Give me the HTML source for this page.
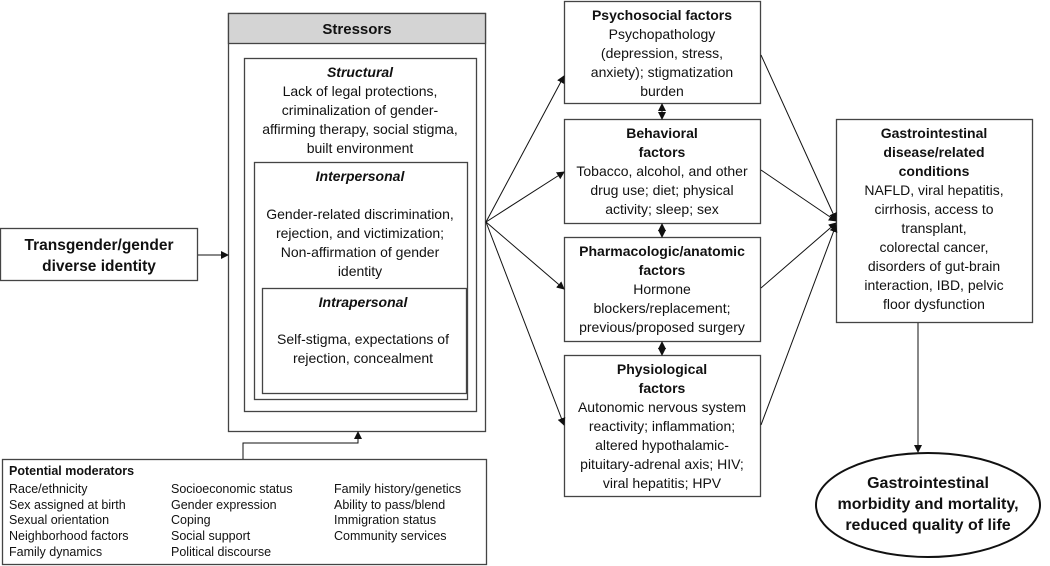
<!DOCTYPE html>
<html><head><meta charset="utf-8"><style>
html,body{margin:0;padding:0;background:#fff;}
svg{display:block;font-family:"Liberation Sans",sans-serif;}
text{font-size:14px;fill:#111;}
.b{font-weight:bold;}
.i{font-weight:bold;font-style:italic;}
.m{font-size:12.5px;}
</style></head><body>
<svg width="1050" height="566" viewBox="0 0 1050 566" xmlns="http://www.w3.org/2000/svg">
<defs><marker id="a" markerWidth="8" markerHeight="8" refX="7" refY="4" orient="auto" markerUnits="userSpaceOnUse"><path d="M0,0 L8,4 L0,8 z" fill="#111"/></marker>
<marker id="s" markerWidth="8" markerHeight="8" refX="1" refY="4" orient="auto" markerUnits="userSpaceOnUse"><path d="M8,0 L0,4 L8,8 z" fill="#111"/></marker></defs>
<g fill="none" stroke="#444" stroke-width="1.3">
<rect x="228.5" y="13.5" width="257" height="418" fill="#fff"/>
<rect x="228.5" y="13.5" width="257" height="30" fill="#d4d4d4"/>
<rect x="244.5" y="58.5" width="232" height="353"/>
<rect x="254.5" y="162.5" width="213" height="237"/>
<rect x="262.5" y="288.5" width="204" height="105"/>
<rect x="0.5" y="228.5" width="197" height="52"/>
<rect x="2.5" y="459.5" width="484" height="105"/>
<rect x="564.5" y="1.5" width="196" height="102"/>
<rect x="564.5" y="119.5" width="196" height="104"/>
<rect x="564.5" y="237.5" width="196" height="104"/>
<rect x="564.5" y="355.5" width="196" height="141"/>
<rect x="836.5" y="119.5" width="196" height="203"/>
<ellipse cx="928" cy="505" rx="112" ry="52" stroke="#111" stroke-width="2"/>
</g>
<g stroke="#111" stroke-width="1" fill="none">
<line x1="198" y1="255" x2="228" y2="255" marker-end="url(#a)"/>
<polyline points="243,459 243,443 358,443 358,432" marker-end="url(#a)"/>
<line x1="486" y1="222" x2="564" y2="76" marker-end="url(#a)"/>
<line x1="486" y1="222" x2="564" y2="172" marker-end="url(#a)"/>
<line x1="486" y1="222" x2="564" y2="289" marker-end="url(#a)"/>
<line x1="486" y1="222" x2="564" y2="425" marker-end="url(#a)"/>
<line x1="761" y1="55" x2="836" y2="220" marker-end="url(#a)"/>
<line x1="761" y1="170" x2="836" y2="221" marker-end="url(#a)"/>
<line x1="761" y1="288" x2="836" y2="223" marker-end="url(#a)"/>
<line x1="761" y1="425" x2="836" y2="225" marker-end="url(#a)"/>
<line x1="662" y1="104" x2="662" y2="119" marker-end="url(#a)" marker-start="url(#s)"/>
<line x1="662" y1="224" x2="662" y2="237" marker-end="url(#a)" marker-start="url(#s)"/>
<line x1="662" y1="342" x2="662" y2="355" marker-end="url(#a)" marker-start="url(#s)"/>
<line x1="918" y1="323" x2="918" y2="452" marker-end="url(#a)"/>
</g>
<g text-anchor="middle">
<text x="357" y="34" class="b" style="font-size:15px">Stressors</text>
<text x="360" y="77" class="i">Structural</text>
<text x="360" y="96">Lack of legal protections,</text>
<text x="360" y="115">criminalization of gender-</text>
<text x="360" y="134">affirming therapy, social stigma,</text>
<text x="360" y="153">built environment</text>
<text x="360" y="181" class="i">Interpersonal</text>
<text x="360" y="219">Gender-related discrimination,</text>
<text x="360" y="238">rejection, and victimization;</text>
<text x="360" y="257">Non-affirmation of gender</text>
<text x="360" y="276">identity</text>
<text x="363" y="307" class="i">Intrapersonal</text>
<text x="363" y="344">Self-stigma, expectations of</text>
<text x="363" y="363">rejection, concealment</text>
<text x="99" y="250" class="b" style="font-size:15.5px">Transgender/gender</text>
<text x="99" y="271" class="b" style="font-size:15.5px">diverse identity</text>
<text x="662" y="20" class="b">Psychosocial factors</text>
<text x="662" y="39">Psychopathology</text>
<text x="662" y="58">(depression, stress,</text>
<text x="662" y="77">anxiety); stigmatization</text>
<text x="662" y="96">burden</text>
<text x="662" y="138" class="b">Behavioral</text>
<text x="662" y="157" class="b">factors</text>
<text x="662" y="176">Tobacco, alcohol, and other</text>
<text x="662" y="195">drug use; diet; physical</text>
<text x="662" y="214">activity; sleep; sex</text>
<text x="662" y="256" class="b">Pharmacologic/anatomic</text>
<text x="662" y="275" class="b">factors</text>
<text x="662" y="294">Hormone</text>
<text x="662" y="313">blockers/replacement;</text>
<text x="662" y="332">previous/proposed surgery</text>
<text x="662" y="374" class="b">Physiological</text>
<text x="662" y="393" class="b">factors</text>
<text x="662" y="412">Autonomic nervous system</text>
<text x="662" y="431">reactivity; inflammation;</text>
<text x="662" y="450">altered hypothalamic-</text>
<text x="662" y="469">pituitary-adrenal axis; HIV;</text>
<text x="662" y="488">viral hepatitis; HPV</text>
<text x="934" y="138" class="b">Gastrointestinal</text>
<text x="934" y="157" class="b">disease/related</text>
<text x="934" y="176" class="b">conditions</text>
<text x="934" y="195">NAFLD, viral hepatitis,</text>
<text x="934" y="214">cirrhosis, access to</text>
<text x="934" y="233">transplant,</text>
<text x="934" y="252">colorectal cancer,</text>
<text x="934" y="271">disorders of gut-brain</text>
<text x="934" y="290">interaction, IBD, pelvic</text>
<text x="934" y="309">floor dysfunction</text>
<text x="928" y="488" class="b" style="font-size:16px">Gastrointestinal</text>
<text x="928" y="509" class="b" style="font-size:16px">morbidity and mortality,</text>
<text x="928" y="530" class="b" style="font-size:16px">reduced quality of life</text>
</g>
<g>
<text x="9" y="475" class="b m">Potential moderators</text>
<text x="9" y="493" class="m">Race/ethnicity</text>
<text x="9" y="509" class="m">Sex assigned at birth</text>
<text x="9" y="524" class="m">Sexual orientation</text>
<text x="9" y="540" class="m">Neighborhood factors</text>
<text x="9" y="556" class="m">Family dynamics</text>
<text x="171" y="493" class="m">Socioeconomic status</text>
<text x="171" y="509" class="m">Gender expression</text>
<text x="171" y="524" class="m">Coping</text>
<text x="171" y="540" class="m">Social support</text>
<text x="171" y="556" class="m">Political discourse</text>
<text x="334" y="493" class="m">Family history/genetics</text>
<text x="334" y="509" class="m">Ability to pass/blend</text>
<text x="334" y="524" class="m">Immigration status</text>
<text x="334" y="540" class="m">Community services</text>
</g>
</svg>
</body></html>
